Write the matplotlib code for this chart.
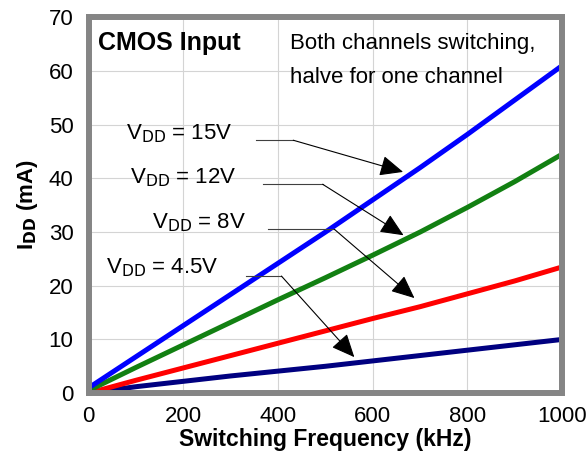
import matplotlib
matplotlib.use('Agg')
import matplotlib.pyplot as plt

plt.rcParams['font.family'] = ['Liberation Sans', 'DejaVu Sans']

# Data
freq_khz = [0, 100, 200, 300, 400, 500, 600, 700, 800, 900, 1000]
idd_15v = [1.0, 6.8, 12.6, 18.4, 24.2, 30.0, 36.0, 42.0, 48.2, 54.6, 61.0]
idd_12v = [0.5, 4.8, 9.0, 13.2, 17.4, 21.5, 25.7, 30.0, 34.6, 39.4, 44.5]
idd_8v = [0.0, 2.4, 4.7, 7.0, 9.3, 11.6, 13.9, 16.1, 18.5, 20.9, 23.5]
idd_4v5 = [0.0, 1.2, 2.2, 3.2, 4.1, 5.0, 6.0, 7.0, 8.0, 9.0, 10.0]

x_ticks = [0, 200, 400, 600, 800, 1000]
y_ticks = [0, 10, 20, 30, 40, 50, 60, 70]

fig = plt.figure(figsize=(5.88, 4.55), dpi=100)
ax = fig.add_axes([0.151, 0.136, 0.805, 0.826])

ax.plot(freq_khz, idd_4v5, color='#000080', lw=3.6, solid_capstyle='round')
ax.plot(freq_khz, idd_8v, color='#ff0000', lw=3.6, solid_capstyle='round')
ax.plot(freq_khz, idd_12v, color='#128012', lw=3.6, solid_capstyle='round')
ax.plot(freq_khz, idd_15v, color='#0000ff', lw=3.6, solid_capstyle='round')

ax.set_xlim(0, 1000)
ax.set_ylim(0, 70)
ax.set_xticks(x_ticks)
ax.set_yticks(y_ticks)
ax.tick_params(axis='x', length=0, labelsize=16, pad=9)
ax.tick_params(axis='y', length=0, labelsize=16, pad=11)
ax.grid(True, color='#d4d4d4', lw=0.8)
ax.set_axisbelow(True)
for sp in ax.spines.values():
    sp.set_color('#858585')
    sp.set_linewidth(4.3)

ax.set_xlabel('Switching Frequency (kHz)', fontsize=16.5, fontweight='bold', labelpad=1)
ax.set_ylabel('I$_{\\mathbf{DD}}$ (mA)', fontsize=16, fontweight='bold', labelpad=6)

ax.text(19, 65.2, 'CMOS Input', fontsize=18, fontweight='bold', va='center')
ax.text(425, 65.2, 'Both channels switching,', fontsize=16, va='center')
ax.text(425, 58.7, 'halve for one channel', fontsize=16, va='center')

# labels with leader lines: (label, text xy, line start x, knee x, line y, arrow tip)
labels = [
    ('V$_{\\mathrm{DD}}$ = 15V', (192, 48.4), 354, 432, 47.1, (664, 41.2)),
    ('V$_{\\mathrm{DD}}$ = 12V', (200, 40.2), 369, 494, 38.9, (665, 29.4)),
    ('V$_{\\mathrm{DD}}$ = 8V', (232, 31.8), 378, 519, 30.5, (688, 17.7)),
    ('V$_{\\mathrm{DD}}$ = 4.5V', (156, 23.3), 333, 407, 21.8, (561, 6.7)),
]
for txt, (tx, ty), x0, x1, ly, tip in labels:
    ax.text(tx, ty, txt, fontsize=16, ha='center', va='center')
    ax.plot([x0, x1], [ly, ly], color='#404040', lw=0.8)
    ax.annotate('', xy=tip, xytext=(x1, ly),
                arrowprops=dict(arrowstyle='-|>,head_length=0.9,head_width=0.4',
                                color='black', lw=0.8, shrinkA=0, shrinkB=0,
                                mutation_scale=16))

fig.savefig('out.png', dpi=100)
